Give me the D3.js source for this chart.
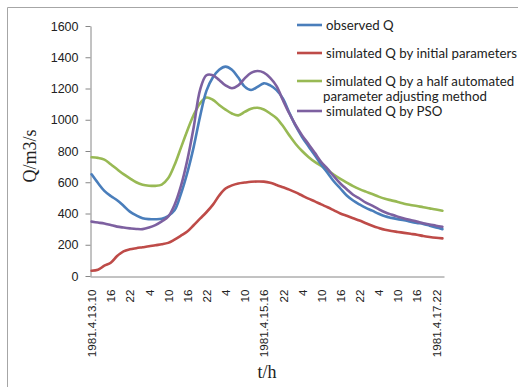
<!DOCTYPE html>
<html><head><meta charset="utf-8">
<script src="https://cdn.jsdelivr.net/npm/d3@7"></script>
<style>body{margin:0;background:#fff} svg{display:block}</style>
</head><body><svg id="c" width="525" height="387"></svg>
<script>
// time in hours after 1981-04-13 10:00
const hours = [0,2,4,6,8,10,12,14,16,18,20,22,24,26,28,30,32,34,36,38,40,42,44,46,48,50,52,54,56,58,60,62,64,66,68,70,72,74,76,78,80,82,84,86,88,90,92,94,96,98,100,102,104,106,108,110];
const observedQ = [651,595,545,512,485,450,412,388,370,364,363,366,384,420,525,660,825,1020,1185,1270,1320,1340,1320,1270,1212,1190,1210,1233,1220,1190,1135,1045,960,890,830,772,712,660,605,560,515,483,458,436,418,398,382,372,364,357,348,340,333,322,311,300];
const initialQ = [34,40,66,85,128,158,171,178,184,190,197,203,212,233,258,285,325,367,408,455,515,560,580,592,598,603,605,604,597,583,568,553,535,515,495,478,458,440,420,400,385,370,355,338,322,308,296,288,282,276,270,264,256,250,245,241];
const halfAutoQ = [760,756,745,715,683,652,625,600,584,578,577,585,625,710,820,930,1030,1105,1142,1128,1095,1065,1040,1028,1050,1070,1077,1066,1040,1010,960,900,845,800,762,730,705,676,648,622,598,575,556,540,525,508,494,484,474,463,455,448,440,433,426,418];
const psoQ = [348,342,336,326,316,310,305,301,300,310,326,350,380,455,575,740,950,1190,1285,1285,1255,1220,1202,1220,1265,1300,1312,1302,1268,1215,1125,1040,965,900,845,788,730,685,637,592,555,520,496,470,450,428,408,393,380,368,358,348,337,330,322,315];

const tickHours = [0,6,12,18,24,30,36,42,48,54,60,66,72,78,84,90,96,102,108];
const tickLabels = ["1981.4.13.10","16","22","4","10","16","22","4","10","1981.4.15.16","22","4","10","16","22","4","10","16","1981.4.17.22"];
const yTicks = [0,200,400,600,800,1000,1200,1400,1600];

const seriesNames = ["observed Q","simulated Q by initial parameters","simulated Q by a half automated|parameter adjusting method","simulated Q by PSO"];
const seriesColors = ["#4a7ebb","#be4b48","#98b954","#7d60a0"];
const seriesValues = [observedQ, initialQ, halfAutoQ, psoQ];

const svg = d3.select("#c");
svg.append("path").attr("d","M7.5,387 V7.5 H518").attr("fill","none").attr("stroke","#a6a6a6").attr("stroke-width",1);

const x = d3.scaleLinear().domain([-0.5,110.5]).range([90,444]);
const y = d3.scaleLinear().domain([0,1600]).range([276,26]);

const gy = svg.append("g").attr("transform","translate(90.5,0)")
  .call(d3.axisLeft(y).tickValues(yTicks).tickFormat(d3.format("d")).tickSize(5).tickSizeOuter(0).tickPadding(7));
gy.select(".domain").attr("stroke","#868686");
gy.selectAll(".tick line").attr("stroke","#868686");
gy.selectAll("text").attr("font-family","Liberation Sans, Arial, sans-serif").attr("font-size","12.5px").attr("fill","#222");

const gx = svg.append("g").attr("transform","translate(0,276.5)")
  .call(d3.axisBottom(x).tickValues(tickHours).tickSize(0).tickSizeOuter(0).tickFormat((d,i)=>tickLabels[i]));
gx.select(".domain").attr("stroke","#868686");
gx.selectAll("text").attr("font-family","Liberation Sans, Arial, sans-serif").attr("font-size","11.6px").attr("fill","#222")
  .attr("transform","rotate(-90)").attr("x",-13).attr("y",0).attr("dy","0.35em").style("text-anchor","end");

svg.append("text").attr("transform","translate(36,156) rotate(-90)").attr("text-anchor","middle")
  .attr("font-family","Liberation Serif, Times New Roman, serif").attr("font-size","18px").attr("fill","#222").text("Q/m3/s");
svg.append("text").attr("x",267).attr("y",378).attr("text-anchor","middle")
  .attr("font-family","Liberation Serif, Times New Roman, serif").attr("font-size","18px").attr("fill","#222").text("t/h");

const line = d3.line().x((d,i)=>x(hours[i])).y(d=>y(d)).curve(d3.curveCatmullRom.alpha(0.5));
[2,1,0,3].forEach(k=>{
  svg.append("path").datum(seriesValues[k]).attr("d",line).attr("fill","none")
    .attr("stroke",seriesColors[k]).attr("stroke-width",2.6).attr("stroke-linejoin","round").attr("stroke-linecap","round");
});

const legY = [25,53,81,111];
const lg = svg.append("g");
const texts = [];
seriesNames.forEach((nm,k)=>{
  lg.append("line").attr("x1",297).attr("x2",322).attr("y1",legY[k]).attr("y2",legY[k])
    .attr("stroke",seriesColors[k]).attr("stroke-width",2.6);
  nm.split("|").forEach((p,j)=>{
    texts.push(lg.append("text").attr("x", j===0?326:323).attr("y", legY[k]+j*15).attr("dy","0.35em")
      .attr("font-family","Lato, Open Sans, sans-serif").attr("font-size","13px").attr("fill","#222").text(p));
  });
});
const ref = texts[1].node().getComputedTextLength();
const fs = 13*191/ref;
texts.forEach(t=>t.attr("font-size",fs+"px"));
</script></body></html>
